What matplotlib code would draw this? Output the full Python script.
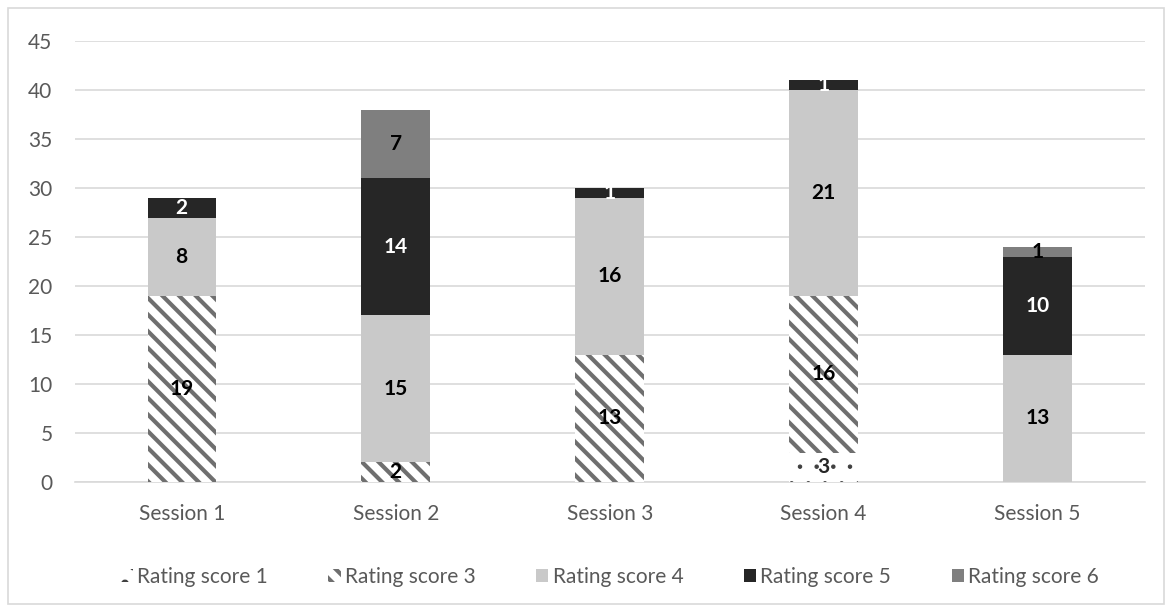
import numpy as np
import matplotlib.pyplot as plt
from matplotlib.patches import Rectangle

plt.rcParams['font.family'] = ['Lato', 'DejaVu Sans']
plt.rcParams['hatch.linewidth'] = 3.0

sessions = ['Session 1', 'Session 2', 'Session 3', 'Session 4', 'Session 5']
series_names = ['Rating score 1', 'Rating score 3', 'Rating score 4', 'Rating score 5', 'Rating score 6']
score1 = [0, 0, 0, 3, 0]
score3 = [19, 2, 13, 16, 0]
score4 = [8, 15, 16, 21, 13]
score5 = [2, 14, 1, 1, 10]
score6 = [0, 7, 0, 0, 1]
yticks = [0, 5, 10, 15, 20, 25, 30, 35, 40, 45]

values = [score1, score3, score4, score5, score6]
faces = ['white', 'white', '#c9c9c9', '#262626', '#7f7f7f']
hatches = ['.', '\\\\', None, None, None]
hatch_cols = ['#404040', '#6f6f6f', None, None, None]
hatch_lw = [0.8, 3.0, 1.0, 1.0, 1.0]
label_cols = ['#262626', 'black', 'black', 'white', 'black']

fig = plt.figure(figsize=(11.68, 6.07), dpi=100)
ax = fig.add_axes([0.064, 0.206, 0.916, 0.726])
fig.patches.append(Rectangle((0.007, 0.005), 0.99, 0.982, transform=fig.transFigure,
                             fill=False, edgecolor='#d9d9d9', linewidth=1.2))

x = np.arange(len(sessions))
bottom = np.zeros(len(sessions))
handles = []
for vals, fc, h, hc, hl, lc, name in zip(values, faces, hatches, hatch_cols, hatch_lw,
                                         label_cols, series_names):
    vals = np.array(vals, dtype=float)
    bars = ax.bar(x, vals, 0.32, bottom=bottom, color=fc, hatch=h,
                  edgecolor=hc if hc else fc, linewidth=0, label=name, zorder=3)
    for p in bars:
        try:
            p.set_hatch_linewidth(hl)
        except AttributeError:
            pass
    for xi, v, b in zip(x, vals, bottom):
        if v > 0:
            ax.text(xi, b + v / 2, f'{int(v)}', ha='center', va='center',
                    color=lc, fontsize=15, fontweight='bold', zorder=4)
    handles.append(bars)
    bottom += vals

ax.set_ylim(0, 45)
ax.set_xlim(-0.5, 4.5)
ax.set_yticks(yticks)
ax.set_xticks(x)
ax.set_xticklabels(sessions)
ax.grid(axis='y', color='#d9d9d9', linewidth=1.2, zorder=0)
for s in ['top', 'right', 'left']:
    ax.spines[s].set_visible(False)
ax.spines['bottom'].set_color('#d9d9d9')
ax.spines['bottom'].set_linewidth(1.2)
ax.tick_params(axis='both', length=0, labelsize=15, colors='#595959')
ax.tick_params(axis='y', pad=16)
ax.tick_params(axis='x', pad=16)

leg = ax.legend(handles=handles, loc='upper center', bbox_to_anchor=(0.5, -0.15), ncol=5,
                frameon=False, fontsize=15, handlelength=0.6, handleheight=0.6,
                handletextpad=0.2, columnspacing=2.9, labelcolor='#595959')
for p in leg.get_patches():
    try:
        p.set_hatch_linewidth(p.get_hatch_linewidth())
    except AttributeError:
        pass

fig.savefig('out.png', dpi=100)
